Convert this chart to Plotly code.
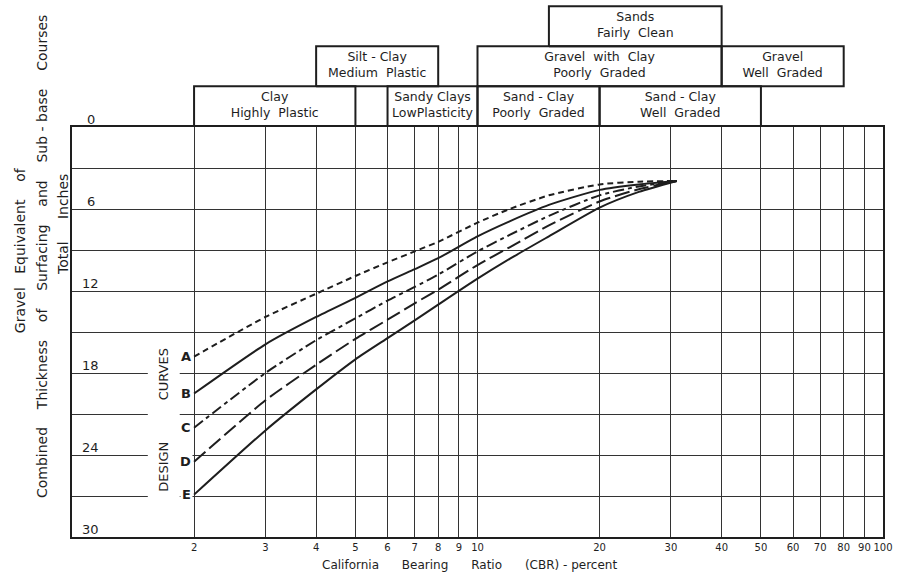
import numpy as np
import plotly.graph_objects as go

# ---------------- data ----------------
cbr = [2, 3, 4, 5, 6, 7, 8, 10, 12, 15, 20, 25, 31]
curve_A = [16.8, 13.9, 12.2, 10.9, 9.9, 9.1, 8.4, 7.0, 6.0, 5.0, 4.2, 4.0, 3.95]
curve_B = [19.5, 15.9, 13.9, 12.5, 11.3, 10.4, 9.6, 8.0, 6.9, 5.7, 4.6, 4.2, 3.95]
curve_C = [22.0, 18.0, 15.6, 14.0, 12.7, 11.7, 10.8, 9.1, 7.9, 6.5, 5.0, 4.35, 3.95]
curve_D = [24.5, 20.0, 17.4, 15.5, 14.1, 12.9, 11.9, 10.1, 8.8, 7.2, 5.45, 4.55, 3.95]
curve_E = [26.9, 22.2, 19.2, 17.0, 15.45, 14.15, 13.0, 11.1, 9.65, 8.0, 5.9, 4.75, 3.95]
curve_names = ["A", "B", "C", "D", "E"]

x_tick_vals = [2, 3, 4, 5, 6, 7, 8, 9, 10, 20, 30, 40, 50, 60, 70, 80, 90, 100]
x_tick_text = [str(v) for v in x_tick_vals]
y_grid_vals = [0, 3, 6, 9, 12, 15, 18, 21, 24, 27, 30]
y_label_vals = [0, 6, 12, 18, 24, 30]

box_labels = ["Clay<br>Highly  Plastic", "Sandy Clays<br>LowPlasticity",
              "Sand - Clay<br>Poorly  Graded", "Sand - Clay<br>Well  Graded",
              "Silt - Clay<br>Medium  Plastic", "Gravel  with  Clay<br>Poorly  Graded",
              "Gravel<br>Well  Graded", "Sands<br>Fairly  Clean"]
box_lo = [2, 6, 10, 20, 4, 10, 40, 15]
box_hi = [5, 10, 20, 50, 8, 40, 80, 40]
box_row = [0, 0, 0, 0, 1, 1, 1, 2]

# ---------------- styling ----------------
FONT = "DejaVu Sans"
INK = "#1e1e1e"
GRID = "#333333"
dashes = ["6px,4px", "solid", "11px,4px,4px,4px", "15px,5px", "solid"]

fig = go.Figure()

curves = [curve_A, curve_B, curve_C, curve_D, curve_E]
for name, ys, dash in zip(curve_names, curves, dashes):
    fig.add_trace(go.Scatter(
        x=cbr, y=ys, mode="lines", name=name,
        line=dict(color=INK, width=2, dash=dash, shape="spline", smoothing=0.6),
        showlegend=False, hoverinfo="skip"))

# classification boxes above the chart
for lo, hi, r in zip(box_lo, box_hi, box_row):
    fig.add_trace(go.Scatter(
        x=[lo, hi, hi, lo, lo], y=[r, r, r + 1, r + 1, r], mode="lines",
        line=dict(color=INK, width=2), xaxis="x2", yaxis="y2",
        showlegend=False, hoverinfo="skip"))
fig.add_trace(go.Scatter(
    x=[np.sqrt(lo * hi) for lo, hi in zip(box_lo, box_hi)],
    y=[r + 0.5 for r in box_row], mode="text", text=box_labels,
    textfont=dict(family=FONT, size=12.5, color=INK),
    xaxis="x2", yaxis="y2", showlegend=False, hoverinfo="skip"))

H_MAIN = 410 / 532


def px_x(p):
    return (p - 72) / 813


def px_y(p):
    return (537 - p) / 532


annotations = []
# y labels (inside the left part of the grid)
for v in y_label_vals:
    annotations.append(dict(
        x=px_x(91), xref="paper", y=v, yref="y", text=str(v), showarrow=False,
        xanchor="center", yanchor="middle", yshift=8,
        font=dict(family=FONT, size=13, color=INK)))

# design curves label
annotations.append(dict(
    x=px_x(163), xref="paper", y=px_y(420), yref="paper",
    text="DESIGN          CURVES", textangle=-90, showarrow=False,
    xanchor="center", yanchor="middle",
    font=dict(family=FONT, size=13, color=INK)))

# curve letters at the start of each curve
for name, ys in zip(curve_names, curves):
    annotations.append(dict(
        x=np.log10(cbr[0]), xref="x", y=ys[0], yref="y", text="<b>" + name + "</b>",
        showarrow=False, xanchor="right", yanchor="middle", xshift=-1,
        bgcolor="white", borderpad=1,
        font=dict(family=FONT, size=13, color=INK)))

# axis titles
TF = dict(family=FONT, size=14, color=INK)
annotations.append(dict(
    x=px_x(20), xref="paper", y=px_y(250), yref="paper",
    text="Gravel   Equivalent    of", textangle=-90, showarrow=False,
    xanchor="center", yanchor="middle", font=TF))
annotations.append(dict(
    x=px_x(42), xref="paper", y=px_y(257), yref="paper",
    text="Combined    Thickness    of    Surfacing    and    Sub - base    Courses",
    textangle=-90, showarrow=False, xanchor="center", yanchor="middle", font=TF))
annotations.append(dict(
    x=px_x(63), xref="paper", y=px_y(225), yref="paper",
    text="Total     Inches", textangle=-90, showarrow=False,
    xanchor="center", yanchor="middle", font=TF))
annotations.append(dict(
    x=px_x(470), xref="paper", y=px_y(565), yref="paper",
    text="California      Bearing      Ratio      (CBR) - percent", showarrow=False,
    xanchor="center", yanchor="middle", font=dict(family=FONT, size=12, color=INK)))

# white patch where the grid lines are interrupted by the "DESIGN CURVES" lettering
shapes = [dict(type="rect", xref="paper", yref="paper",
               x0=px_x(148), x1=px_x(180), y0=px_y(503), y1=px_y(336),
               fillcolor="white", line=dict(width=0), layer="above")]

fig.update_layout(
    width=898, height=574,
    margin=dict(l=72, r=13, t=5, b=37),
    paper_bgcolor="white", plot_bgcolor="white",
    showlegend=False,
    xaxis=dict(type="log", range=[0, 2], tickvals=x_tick_vals, ticktext=x_tick_text,
               showgrid=True, gridcolor=GRID, gridwidth=1.3, showline=True, mirror=True,
               linecolor=INK, linewidth=2, ticks="", zeroline=False, anchor="y",
               domain=[0, 1], tickfont=dict(family=FONT, size=10, color=INK)),
    yaxis=dict(range=[30, 0], tickvals=y_grid_vals, showticklabels=False,
               showgrid=True, gridcolor=GRID, gridwidth=1.3, showline=True, mirror=True,
               linecolor=INK, linewidth=2, ticks="", zeroline=False, anchor="x",
               domain=[0, H_MAIN]),
    xaxis2=dict(type="log", range=[0, 2], visible=False, anchor="y2", domain=[0, 1]),
    yaxis2=dict(range=[-0.02, 3.03], visible=False, anchor="x2", domain=[H_MAIN, 1]),
    annotations=annotations,
    shapes=shapes,
)

fig.write_html("out.html", config={"displayModeBar": False},
               post_script="document.body.style.margin='0px';")
